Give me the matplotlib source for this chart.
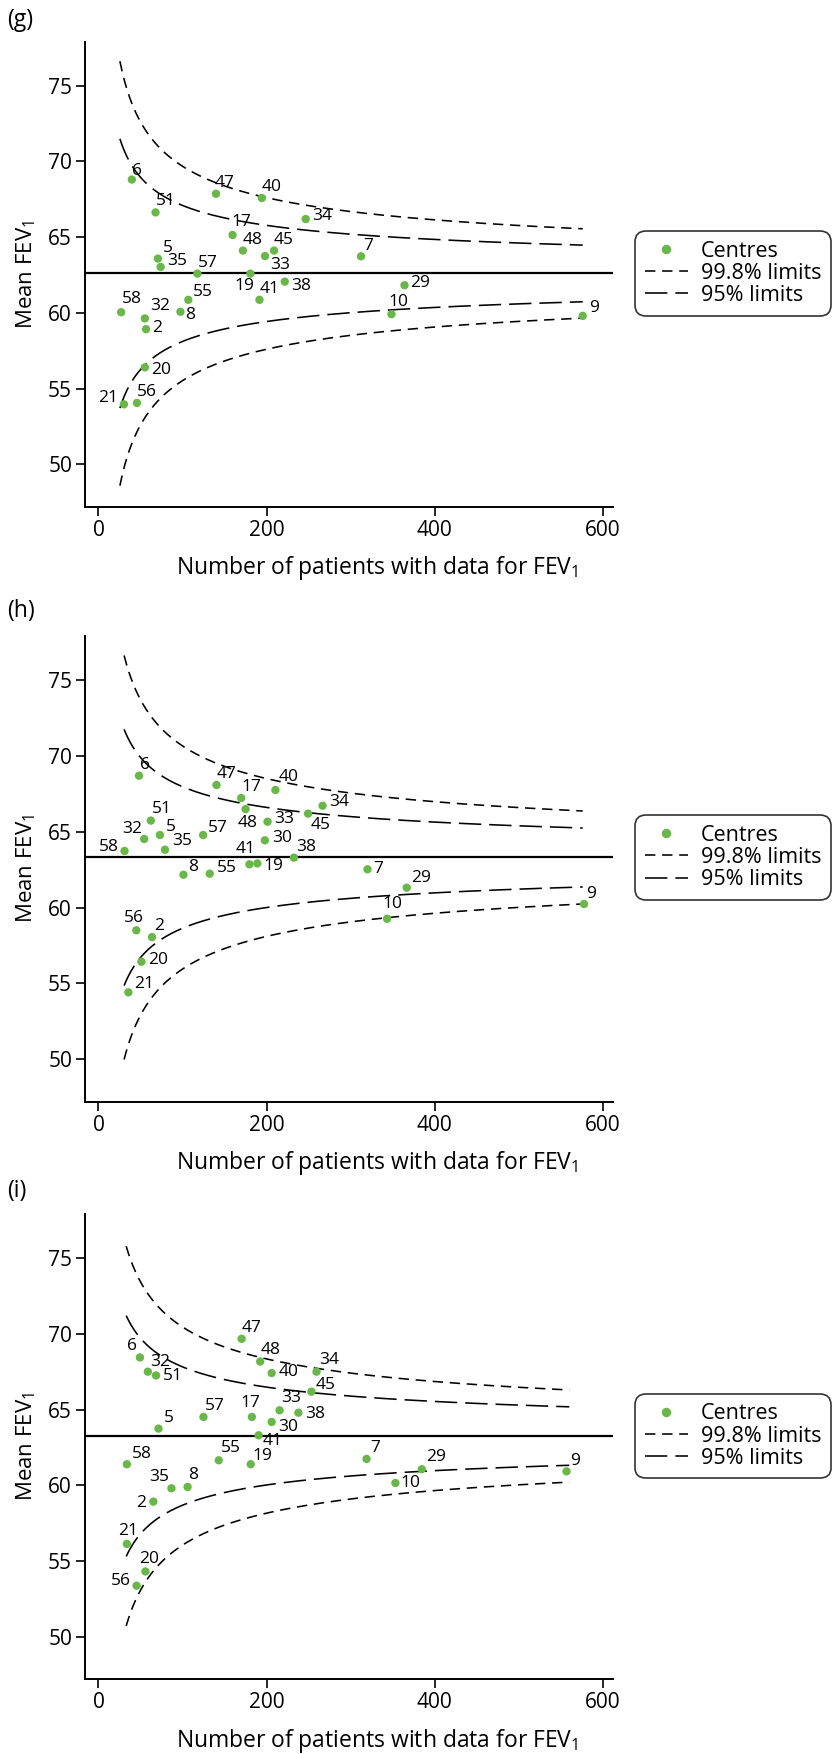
import numpy as np
import matplotlib
matplotlib.use("Agg")
import matplotlib.pyplot as plt
from matplotlib.lines import Line2D
from matplotlib.transforms import blended_transform_factory

plt.rcParams['font.family'] = ['Open Sans', 'DejaVu Sans']
plt.rcParams['mathtext.fontset'] = 'custom'
plt.rcParams['mathtext.rm'] = 'Open Sans'
plt.rcParams['mathtext.it'] = 'Open Sans:italic'
plt.rcParams['mathtext.bf'] = 'Open Sans:bold'

# ---------------- data ----------------
ids_g = [2, 5, 6, 7, 8, 9, 10, 17, 19, 20, 21, 29, 32, 33, 34, 35, 38, 40, 41, 45, 47, 48, 51, 55, 56, 57, 58]
n_g = [56.6, 70.7, 39.7, 312.3, 97.5, 576, 348.5, 159.5, 180.7, 55.2, 30.3, 364, 55.2, 198.1, 246.5, 74.0,
       221.6, 194.3, 191.5, 208.9, 139.8, 171.8, 67.9, 106.9, 45.8, 117.7, 27.0]
fev_g = [58.92, 63.58, 68.8, 63.73, 60.07, 59.8, 59.91, 65.14, 62.59, 56.4, 53.96, 61.82, 59.63, 63.75, 66.19,
         63.03, 62.06, 67.58, 60.86, 64.11, 67.86, 64.11, 66.63, 60.86, 54.05, 62.59, 60.04]

ids_h = [2, 5, 6, 7, 8, 9, 10, 17, 19, 20, 21, 29, 30, 32, 33, 34, 35, 38, 40, 41, 45, 47, 48, 51, 55, 56, 57, 58]
n_h = [63.7, 73.1, 48.2, 320, 101.1, 577.5, 343.3, 169.8, 189.0, 51.1, 35.6, 366.7, 197.9, 54.4, 201.1, 266.6,
       79.1, 232.5, 210.5, 179.6, 249.3, 140.4, 175.0, 62.3, 132.4, 45.0, 124.5, 31.0]
fev_h = [58.05, 64.78, 68.69, 62.52, 62.16, 60.23, 59.26, 67.22, 62.91, 56.43, 54.41, 61.31, 64.43, 64.52, 65.66,
         66.71, 63.81, 63.29, 67.75, 62.85, 66.19, 68.08, 66.49, 65.73, 62.23, 58.5, 64.78, 63.73]

ids_i = [2, 5, 6, 7, 8, 9, 10, 17, 19, 20, 21, 29, 30, 32, 33, 34, 35, 38, 40, 41, 45, 47, 48, 51, 55, 56, 57, 58]
n_i = [65.3, 71.4, 49.3, 318.9, 106.0, 556.7, 353.2, 182.5, 181.1, 55.9, 33.8, 384.6, 206.0, 58.7, 215.4, 259.4,
       86.8, 237.8, 206.0, 190.5, 253.3, 170.3, 192.4, 68.5, 143.1, 45.4, 124.9, 33.8]
fev_i = [58.93, 63.75, 68.45, 61.75, 59.9, 60.93, 60.16, 64.52, 61.4, 54.32, 56.14, 61.07, 64.19, 67.51, 64.96,
         67.51, 59.81, 64.8, 67.42, 63.31, 66.19, 69.68, 68.18, 67.26, 61.66, 53.38, 64.52, 61.4]

# overall mean and spread used for the funnel limits
mean_g, sd_g, nrange_g = 62.6, 22.9, (25.5, 576)
mean_h, sd_h, nrange_h = 63.3, 23.8, (30.5, 576)
mean_i, sd_i, nrange_i = 63.26, 23.3, (33.0, 560)
z_998, z_95 = 3.09, 1.96

panel_names = ['(g)', '(h)', '(i)']
x_ticks = [0, 200, 400, 600]
y_ticks = [50, 55, 60, 65, 70, 75]
legend_labels = ['Centres', '99.8% limits', '95% limits']

# ---------------- label placement (pixels, dy up) ----------------
default_off = (10, 11)
off_g = {34: (16, 3), 33: (15, -9), 35: (17, 6), 19: (-6, -12), 38: (16, -4), 29: (16, 2), 55: (15, 8),
         8: (10, -3), 9: (11, 8), 32: (15, 12), 2: (11, 1), 20: (16, -3), 21: (-16, 6), 6: (5.5, 9),
         7: (7, 10), 10: (7, 12), 47: (9, 11), 17: (9, 13), 58: (11, 13)}
off_h = {6: (6, 11), 40: (13, 13), 34: (17, 4), 48: (2, -14), 45: (13, -11), 51: (11, 12), 33: (17, 3),
         5: (11, 8), 57: (15, 7), 32: (-12, 10), 30: (17, 2), 35: (17, 9), 58: (-16, 4), 38: (12, 11),
         41: (-4, 15), 19: (16, -3), 7: (11, 0), 8: (10, 8), 55: (17, 6), 29: (14, 10), 9: (7, 10),
         10: (5, 15), 56: (-2, 12), 2: (7, 11), 20: (17, 2), 21: (16, 8)}
off_i = {6: (-8, 11), 48: (10, 12), 32: (12, 10), 51: (17, -1), 40: (17, 1), 34: (13, 12), 45: (14, 7),
         33: (12, 12), 38: (17, -1), 17: (-2, 14), 57: (11, 11), 30: (17, -5), 5: (10, 11), 41: (14, -6),
         7: (9, 11), 55: (12, 12), 58: (15, 10), 19: (12, 8), 29: (14, 12), 9: (9, 10), 10: (15, 0),
         35: (-12, 11), 8: (6, 12), 2: (-12, -1), 21: (1, 13), 20: (4, 12), 56: (-16, 5)}

panels = [
    (ids_g, n_g, fev_g, mean_g, sd_g, nrange_g, off_g),
    (ids_h, n_h, fev_h, mean_h, sd_h, nrange_h, off_h),
    (ids_i, n_i, fev_i, mean_i, sd_i, nrange_i, off_i),
]

# ---------------- figure ----------------
W, H = 833, 1754
fig = plt.figure(figsize=(W / 100, H / 100), dpi=100)

green = '#67b846'
ax_left, ax_right = 85, 613
ax_tops = [41.7, 636, 1214.3]
ax_bottoms = [506.7, 1101.7, 1679.3]
label_pos = [(7, 20), (7, 611), (7, 1191)]

dash998 = (0, (6.5, 4.2))
dash95 = (0, (14.0, 5.0))

for k, (ids, n, fev, m, sd, nr, offs) in enumerate(panels):
    t, b = ax_tops[k], ax_bottoms[k]
    ax = fig.add_axes([ax_left / W, 1 - b / H, (ax_right - ax_left) / W, (b - t) / H])
    ax.set_xlim(-16, 612)
    ax.set_ylim(47.2, 77.9)

    nn = np.linspace(nr[0], nr[1], 400)
    se = sd / np.sqrt(nn)
    ax.plot(nn, m + z_998 * se, color='black', lw=1.15, linestyle=dash998, zorder=2)
    ax.plot(nn, m - z_998 * se, color='black', lw=1.15, linestyle=dash998, zorder=2)
    ax.plot(nn, m + z_95 * se, color='black', lw=1.15, linestyle=dash95, zorder=2)
    ax.plot(nn, m - z_95 * se, color='black', lw=1.15, linestyle=dash95, zorder=2)
    ax.axhline(m, color='black', lw=1.6, zorder=2)

    ax.scatter(n, fev, s=36, color=green, edgecolors='none', zorder=3)
    for lab, xv, yv in zip(ids, n, fev):
        dx, dy = offs.get(lab, default_off)
        ax.annotate(str(lab), (xv, yv), xytext=(dx, dy), textcoords='offset pixels',
                    ha='center', va='center', fontsize=12.5, color='black', zorder=4)

    for side in ('top', 'right'):
        ax.spines[side].set_visible(False)
    for side in ('left', 'bottom'):
        ax.spines[side].set_linewidth(1.4)
    ax.set_xticks(x_ticks)
    ax.set_yticks(y_ticks)
    ax.tick_params(direction='out', length=6.3, width=1.2, labelsize=15, pad=3)
    ax.set_xlabel('Number of patients with data for FEV$_1$', fontsize=16.5)
    ax.xaxis.set_label_coords(0.553, -0.102)
    ax.xaxis.label.set_verticalalignment('top')
    ax.set_ylabel('Mean FEV$_1$', fontsize=16, labelpad=7)

    handles = [
        Line2D([], [], marker='o', linestyle='none', markersize=6.8, markerfacecolor=green,
               markeredgecolor='none'),
        Line2D([], [], color='black', lw=1.15, linestyle=dash998),
        Line2D([], [], color='black', lw=1.15, linestyle=dash95),
    ]
    leg = ax.legend(handles, legend_labels, loc='center left',
                    bbox_to_anchor=(1.0417, m),
                    bbox_transform=blended_transform_factory(ax.transAxes, ax.transData),
                    fontsize=15.5, frameon=True, fancybox=True, edgecolor='black',
                    handlelength=2.0, handletextpad=0.6, labelspacing=0.05,
                    borderpad=0.45, borderaxespad=0.0)
    leg.get_frame().set_linewidth(1.2)
    leg.get_frame().set_boxstyle('round', pad=0.0, rounding_size=0.5)

    fig.text(label_pos[k][0] / W, 1 - label_pos[k][1] / H, panel_names[k], fontsize=16.5,
             ha='left', va='center')

fig.savefig('out.png', dpi=100)
